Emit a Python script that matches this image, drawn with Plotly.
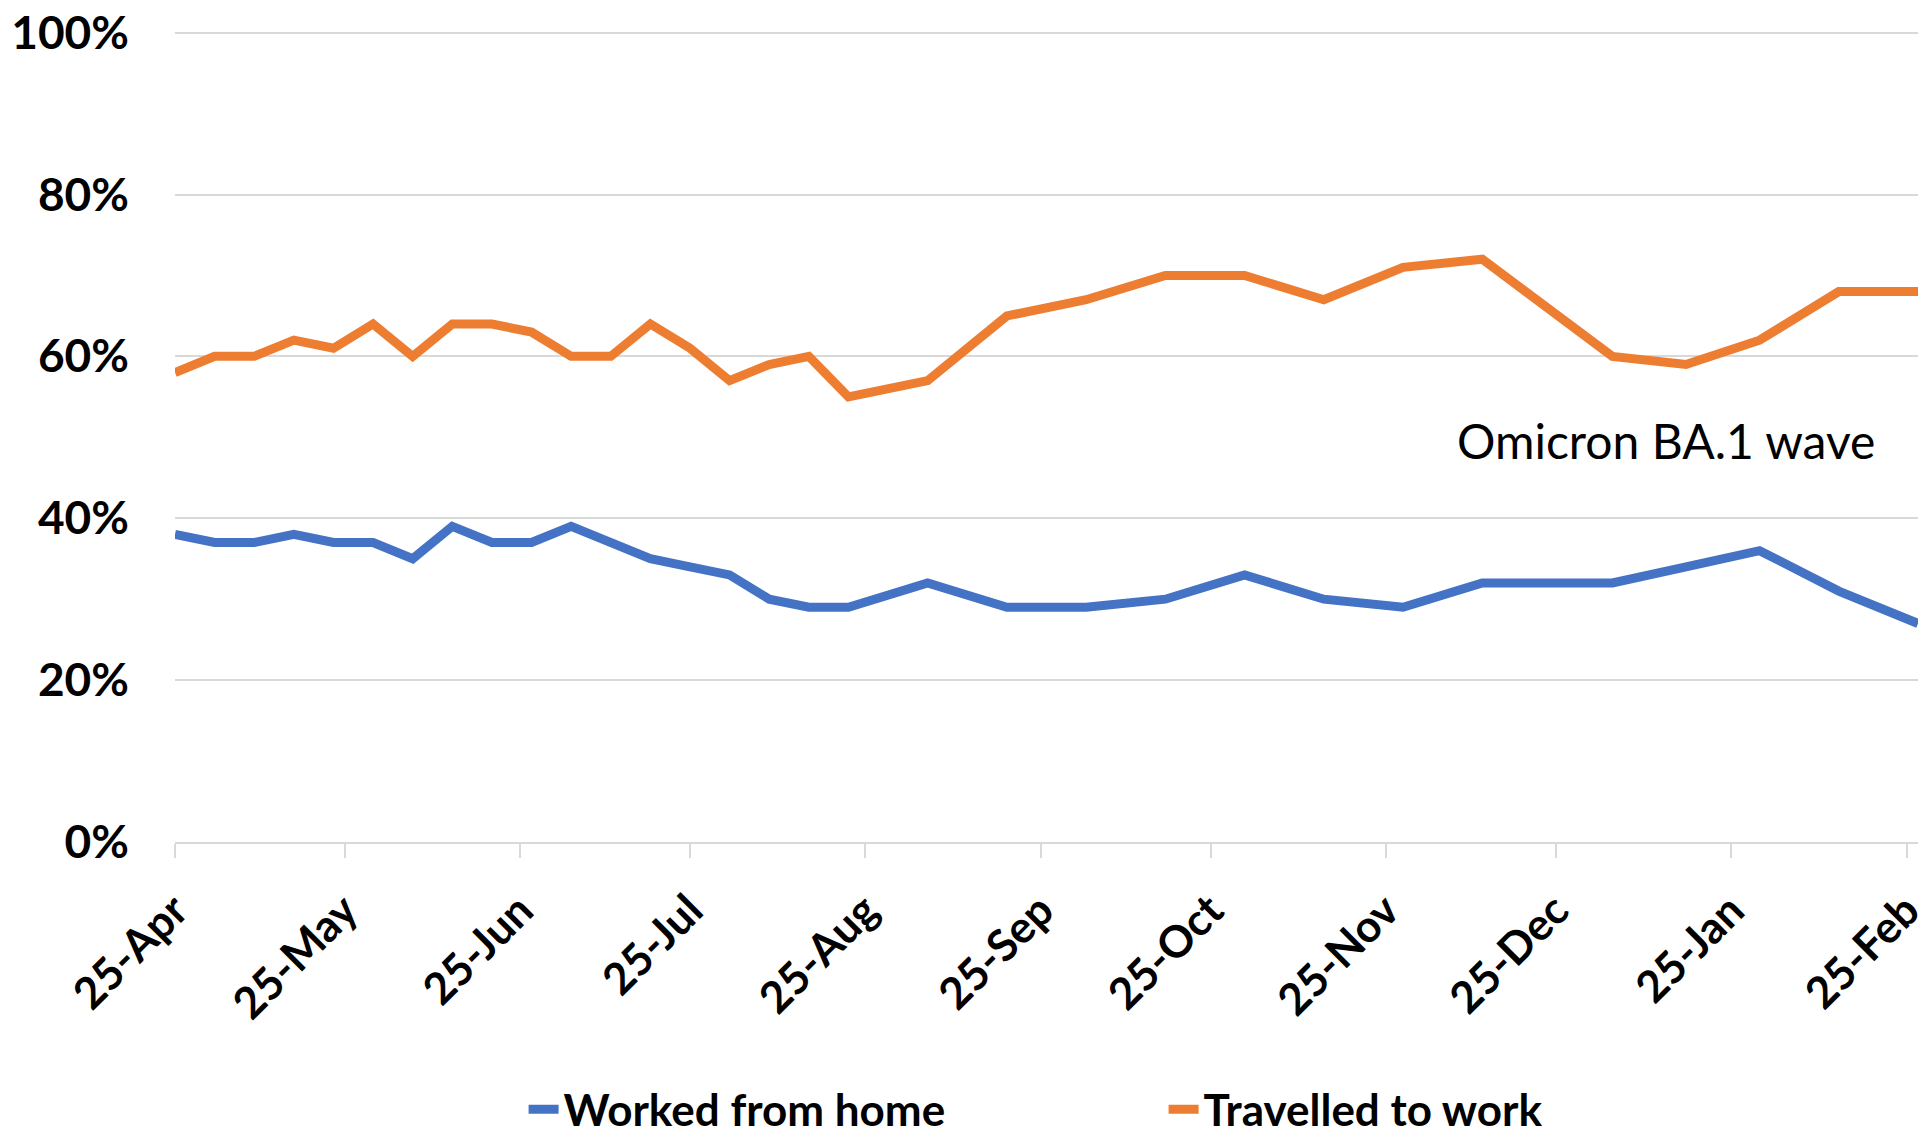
import plotly.graph_objects as go

# Survey dates (end of survey period)
dates = [
    "2021-04-25", "2021-05-02", "2021-05-09", "2021-05-16", "2021-05-23", "2021-05-30",
    "2021-06-06", "2021-06-13", "2021-06-20", "2021-06-27", "2021-07-04", "2021-07-11",
    "2021-07-18", "2021-07-25", "2021-08-01", "2021-08-08", "2021-08-15", "2021-08-22",
    "2021-09-05", "2021-09-19", "2021-10-03", "2021-10-17", "2021-10-31", "2021-11-14",
    "2021-11-28", "2021-12-12", "2022-01-04", "2022-01-17", "2022-01-30", "2022-02-13",
    "2022-02-27",
]

# Percent of working adults
worked_from_home = [
    38, 37, 37, 38, 37, 37, 35, 39, 37, 37, 39, 37, 35, 34, 33, 30, 29, 29,
    32, 29, 29, 30, 33, 30, 29, 32, 32, 34, 36, 31, 27,
]
travelled_to_work = [
    58, 60, 60, 62, 61, 64, 60, 64, 64, 63, 60, 60, 64, 61, 57, 59, 60, 55,
    57, 65, 67, 70, 70, 67, 71, 72, 60, 59, 62, 68, 68,
]

tick_dates = [
    "2021-04-25", "2021-05-25", "2021-06-25", "2021-07-25", "2021-08-25", "2021-09-25",
    "2021-10-25", "2021-11-25", "2021-12-25", "2022-01-25", "2022-02-25",
]
y_ticks = [0, 0.2, 0.4, 0.6, 0.8, 1.0]

series_names = ["Worked from home", "Travelled to work"]
annotation_text = "Omicron BA.1 wave"

fig = go.Figure()
fig.add_trace(go.Scatter(
    x=dates, y=[v / 100 for v in worked_from_home], mode="lines",
    name=series_names[0], line=dict(color="#4472C4", width=9),
))
fig.add_trace(go.Scatter(
    x=dates, y=[v / 100 for v in travelled_to_work], mode="lines",
    name=series_names[1], line=dict(color="#ED7D31", width=9),
))

ytick_font = dict(family="Lato", size=46, color="#000000", weight="bold")
xtick_font = dict(family="Lato", size=44, color="#000000", weight="bold")
legend_font = dict(family="Lato", size=44, color="#000000", weight="bold")

fig.update_layout(
    width=1928, height=1138,
    margin=dict(l=175, r=10, t=31, b=296),
    paper_bgcolor="white", plot_bgcolor="white",
    showlegend=True,
    legend=dict(
        orientation="h", x=0.2, xanchor="left",
        yref="container", y=0.025, yanchor="middle",
        font=legend_font, entrywidth=595, entrywidthmode="pixels",
        bgcolor="rgba(0,0,0,0)",
    ),
    xaxis=dict(
        type="date", range=["2021-04-25", "2022-02-27"],
        tickvals=tick_dates, tickformat="%d-%b", tickangle=-45,
        tickfont=xtick_font, ticks="outside", ticklen=14, tickwidth=2,
        tickcolor="#d9d9d9", showgrid=False, showline=True,
        linecolor="#d9d9d9", linewidth=2, ticklabelstandoff=9, zeroline=False,
        automargin=False, ticklabeloverflow="allow",
    ),
    yaxis=dict(
        range=[0, 1.002], tickvals=y_ticks, tickformat=".0%",
        tickfont=ytick_font, showgrid=True, gridcolor="#d9d9d9", gridwidth=2,
        zeroline=False, showline=False, ticks="", ticklabelstandoff=45,
        automargin=False, ticklabeloverflow="allow",
    ),
    annotations=[dict(
        text=annotation_text, xref="paper", yref="paper", x=0.8555, y=0.495,
        xanchor="center", yanchor="middle", showarrow=False,
        font=dict(family="Lato", size=48, color="#000000"),
    )],
)

fig.write_html(
    "out.html",
    config={"displayModeBar": False},
    post_script="document.body.style.margin='0';",
)
